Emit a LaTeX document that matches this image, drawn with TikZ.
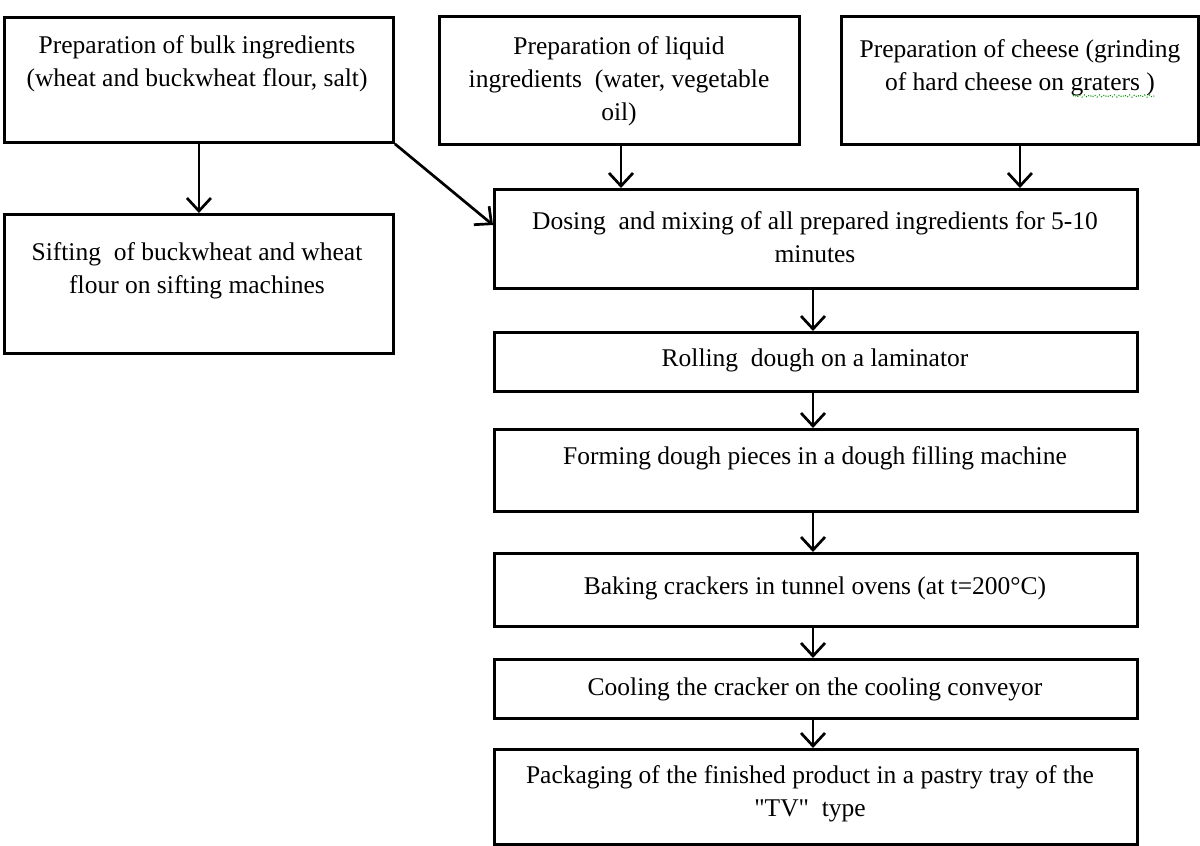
\documentclass[tikz,border=0pt]{standalone}
\usepackage{fontspec}
\setmainfont{Liberation Serif}[Ligatures=TeXReset]
\usetikzlibrary{arrows.meta,decorations.pathmorphing}
\begin{document}
\begin{tikzpicture}[x=1pt,y=-1pt,
  box/.style={draw=black,line width=2.9pt,inner sep=0pt,anchor=north west,fill=none},
  txt/.style={inner sep=0pt,align=center,font=\fontsize{25.5}{33}\selectfont},
  arr/.style={line width=2.7pt,-{Straight Barb[length=13pt,width=24pt]}}]
\useasboundingbox (0,0) rectangle (1200,846);
% boxes
\node[box,minimum width=389pt,minimum height=125pt] (bulk) at (3,16) {};
\node[box,minimum width=360pt,minimum height=128pt] (liq) at (438,15) {};
\node[box,minimum width=357pt,minimum height=128pt] (chs) at (840,15) {};
\node[box,minimum width=389pt,minimum height=139pt] (sift) at (3,213) {};
\node[box,minimum width=643pt,minimum height=99pt] (dose) at (493,188) {};
\node[box,minimum width=643pt,minimum height=59pt] (roll) at (493,331) {};
\node[box,minimum width=643pt,minimum height=82pt] (form) at (493,428) {};
\node[box,minimum width=643pt,minimum height=73pt] (bake) at (493,552) {};
\node[box,minimum width=643pt,minimum height=59pt] (cool) at (493,658) {};
\node[box,minimum width=643pt,minimum height=95pt] (pack) at (493,748) {};
% texts
\node[txt] (tbulk) at (197,64) {Preparation of bulk ingredients\\(wheat and buckwheat flour, salt)};
\node[txt] (tliq) at (619,81) {Preparation of liquid\\ingredients\ \ (water, vegetable\\oil)};
\node[txt] (tchs) at (1020,68) {Preparation of cheese (grinding\\of hard cheese on graters )};
\node[txt] (tsift) at (197,271) {Sifting\ \ of buckwheat and wheat\\flour on sifting machines};
\node[txt] (tdose) at (815,237) {Dosing\ \ and mixing of all prepared ingredients for 5-10\\minutes};
\node[txt] (troll) at (815,360) {Rolling\ \ dough on a laminator};
\node[txt] (tform) at (815,458) {Forming dough pieces in a dough filling machine};
\node[txt] (tbake) at (815,588) {Baking crackers in tunnel ovens (at t=200°C)};
\node[txt] (tcool) at (815,689) {Cooling the cracker on the cooling conveyor};
\node[txt] (tpack) at (810,794) {Packaging of the finished product in a pastry tray of the\\"TV"\ \ type};
% spell-check squiggle
\coordinate (sq1) at (1073,96);
\coordinate (sq2) at (1155,96);
\draw[green!60!black,line width=1pt,dotted,decorate,decoration={snake,amplitude=1.2pt,segment length=5pt}] (sq1) -- (sq2);
% connectors
\coordinate (lx) at (621,0);
\coordinate (cx) at (813,0);
\coordinate (dg) at (0,225);
\draw[arr] (bulk.south) -- (sift.north);
\draw[arr] (bulk.south east) -- (dose.west |- dg);
\draw[arr] (liq.south -| lx) -- (dose.north -| lx);
\draw[arr] (chs.south) -- (chs.south |- dose.north);
\draw[arr] (dose.south -| cx) -- (roll.north -| cx);
\draw[arr] (roll.south -| cx) -- (form.north -| cx);
\draw[arr] (form.south -| cx) -- (bake.north -| cx);
\draw[arr] (bake.south -| cx) -- (cool.north -| cx);
\draw[arr] (cool.south -| cx) -- (pack.north -| cx);
\end{tikzpicture}
\end{document}
